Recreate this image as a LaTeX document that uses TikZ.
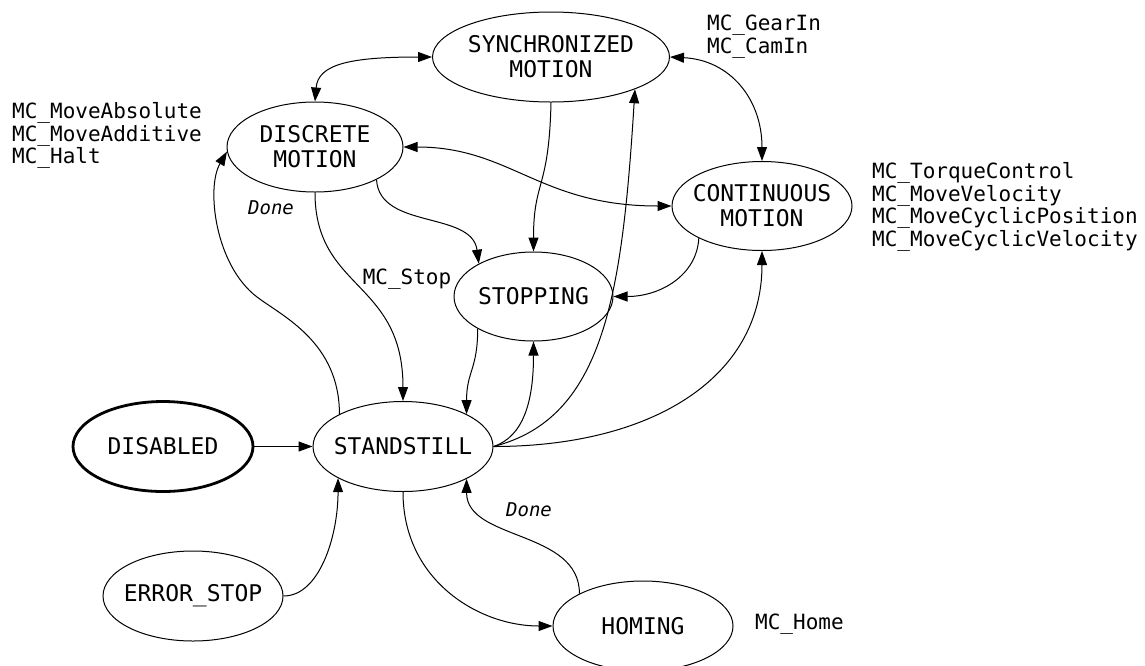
\documentclass[tikz,border=0pt]{standalone}
\usepackage{fontspec}
\setmainfont{DejaVu Sans Mono}
\setmonofont{DejaVu Sans Mono}
\usetikzlibrary{shapes.geometric,arrows.meta}

\begin{document}
\begin{tikzpicture}[x=1pt,y=-1pt,
  state/.style={ellipse,draw,line width=1pt,inner xsep=-12pt,inner ysep=0pt,
    align=center,font=\fontsize{23}{25}\selectfont},
  tip/.tip={Triangle[length=14pt,width=10pt]},
  trans/.style={-tip,line width=1pt},
  both/.style={tip-tip,line width=1pt},
  cmd/.style={anchor=west,inner sep=0pt,align=left,font=\fontsize{21}{22.8}\selectfont},
  cond/.style={inner sep=0pt,font=\fontsize{19}{21}\selectfont\itshape}
]
\useasboundingbox (0,0) rectangle (1145,665);

% states
\node[state,minimum width=237pt,minimum height=90pt] (sync)  at (551,57)      {SYNCHRONIZED\\MOTION};
\node[state,minimum width=176pt,minimum height=90pt] (disc)  at (315,147)     {DISCRETE\\MOTION};
\node[state,minimum width=180pt,minimum height=89pt] (cont)  at (762,206)     {CONTINUOUS\\MOTION};
\node[state,minimum width=159pt,minimum height=89pt] (stop)  at (533.5,296.5) {STOPPING};
\node[state,minimum width=180pt,minimum height=90pt] (stand) at (403,446.5)   {STANDSTILL};
\node[state,line width=2.8pt,minimum width=180pt,minimum height=90pt] (dis) at (163,446.5) {DISABLED};
\node[state,minimum width=180pt,minimum height=90pt] (err)   at (193,596)     {ERROR\_STOP};
\node[state,minimum width=180pt,minimum height=90pt] (hom)   at (643,626)     {HOMING};

% function blocks attached to the states
\node[cmd] (cmdDisc) at (12,135.5) {MC\_MoveAbsolute\\MC\_MoveAdditive\\MC\_Halt};
\node[cmd] (cmdSync) at (707,36.5) {MC\_GearIn\\MC\_CamIn};
\node[cmd] (cmdCont) at (872,207)  {MC\_TorqueControl\\MC\_MoveVelocity\\MC\_MoveCyclicPosition\\MC\_MoveCyclicVelocity};
\node[cmd] (cmdHome) at (755,624)  {MC\_Home};
\node[cmd,anchor=center] (cmdStop) at (407,279) {MC\_Stop};
\node[cond] (doneDisc) at (271,208) {Done};
\node[cond] (doneHome) at (529,510) {Done};

% transitions
\draw[both]  (sync.180) .. controls +(-83,0) and +(3,-37) .. (disc.90);
\draw[both]  (sync.0) .. controls +(60,3) and +(0,-62) .. (cont.90);
\draw[both]  (disc.0) .. controls +(107,0) and +(-132,0) .. (cont.180);
\draw[trans] (sync.270) .. controls +(-2,88) and +(0,-72) .. (stop.90);
\draw[trans] (disc.-28) .. controls +(3,50) and +(-7,-53) .. (stop.149.3);
\draw[trans] (cont.207) .. controls +(-2,37) and +(47,0) .. (stop.0);
\draw[trans] (disc.270) .. controls +(0,98) and +(0,-121) .. (stand.90);
\draw[trans] (stand.153.4) .. controls +(0,-72) and +(25,19) .. (257,297)
                           .. controls +(-42,-32) and +(-21,36) .. (disc.183);
\draw[trans] (stop.210.4) .. controls +(0,41) and +(0,-43) .. (stand.27.3);
\draw[trans] (stand.0) .. controls +(30,-10) and +(0,60) .. (stop.270);
\draw[trans] (stand.0) .. controls +(110,-28) and +(-13,208) .. (sync.-21.4);
\draw[trans] (stand.0) .. controls +(157,0) and +(0,128) .. (cont.270);
\draw[trans] (dis) -- (stand);
\draw[trans] (err.0) .. controls +(36,0) and +(0,58) .. (stand.206.6);
\draw[trans] (stand.270) .. controls +(0,89) and +(-73,0) .. (hom.180);
\draw[trans] (hom.153.4) .. controls +(0,-64) and +(0,62) .. (stand.333.4);
\end{tikzpicture}
\end{document}
